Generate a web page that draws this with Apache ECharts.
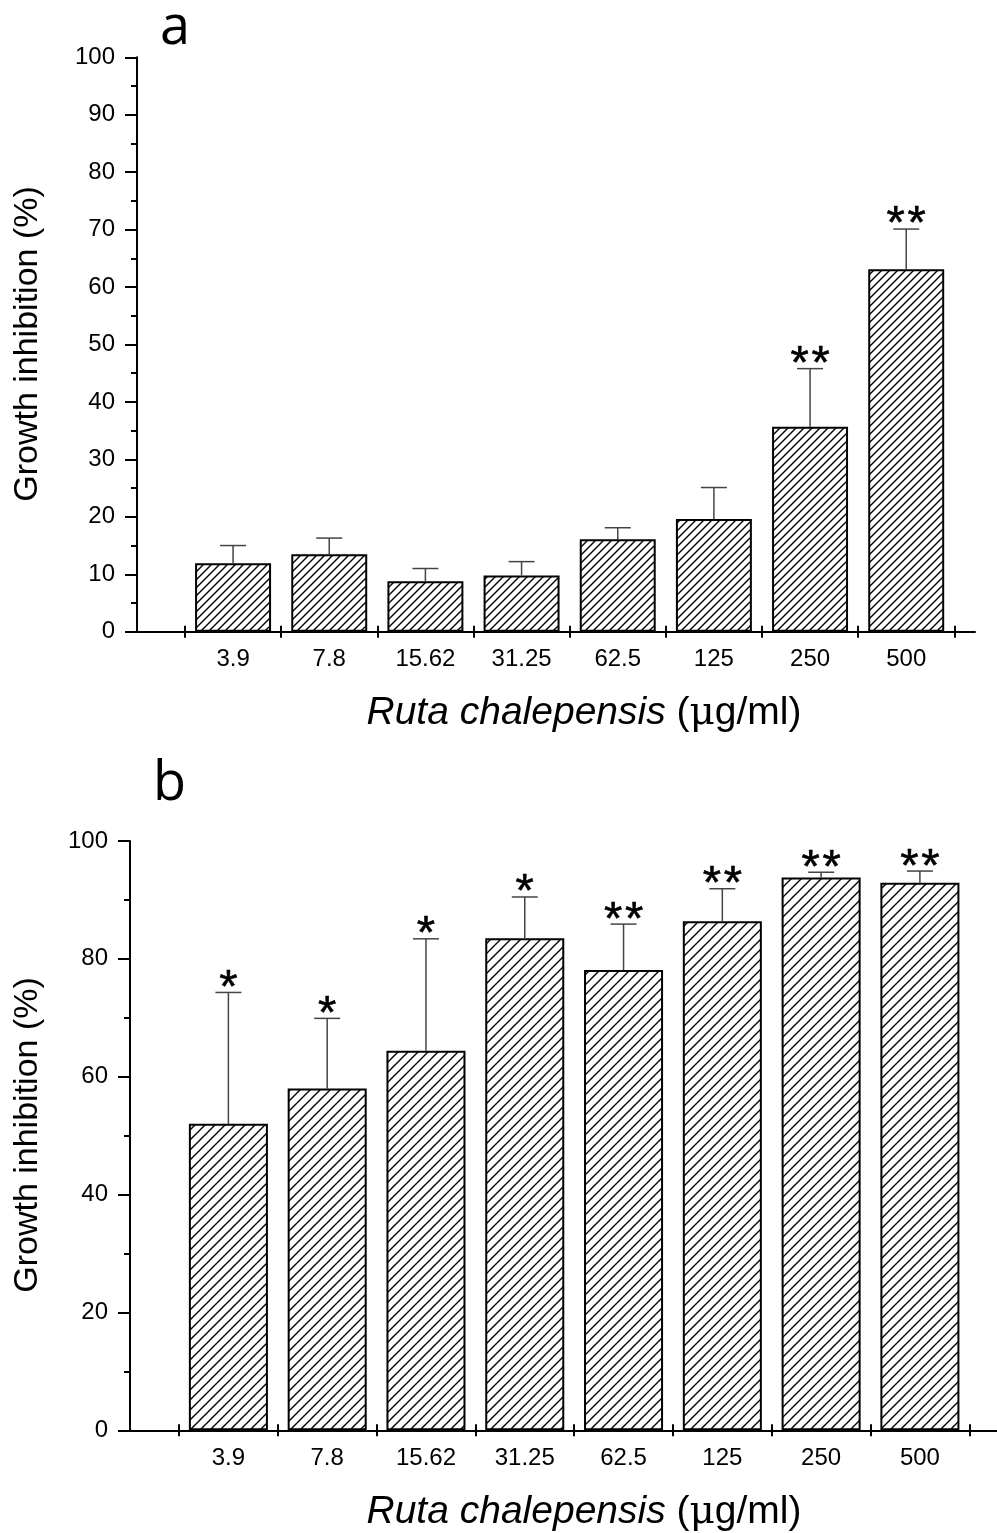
<!DOCTYPE html>
<html>
<head>
<meta charset="utf-8">
<script src="https://cdn.jsdelivr.net/npm/echarts@6.0.0/dist/echarts.min.js"></script>
<style>
  html, body { margin: 0; padding: 0; background: #fff; }
  #chart { width: 997px; height: 1533px; }
</style>
</head>
<body>
<div id="chart"></div>
<script>
// concentrations (µg/ml)
const categories = ['3.9', '7.8', '15.62', '31.25', '62.5', '125', '250', '500']

// panel a
const inhibitionA = [11.9, 13.5, 8.8, 9.8, 16.1, 19.6, 35.7, 63.1]
const errorA = [3.1, 2.8, 2.2, 2.4, 2.0, 5.5, 10.1, 7.0]
const starsA = ['', '', '', '', '', '', '**', '**']

// panel b
const inhibitionB = [52.0, 58.0, 64.4, 83.5, 78.1, 86.4, 93.8, 92.9]
const errorB = [22.3, 11.9, 19.0, 7.0, 7.8, 5.5, 0.9, 2.0]
const starsB = ['*', '*', '*', '*', '**', '**', '**', '**']

const FONT = '"Liberation Sans", Arial, sans-serif'

// diagonal hatch fill
function hatch(p) {
  const c = document.createElement('canvas')
  c.width = p
  c.height = p
  const ctx = c.getContext('2d')
  ctx.fillStyle = '#fff'
  ctx.fillRect(0, 0, p, p)
  ctx.strokeStyle = '#000'
  ctx.lineWidth = 1.4
  ctx.beginPath()
  ctx.moveTo(0, p); ctx.lineTo(p, 0)
  ctx.moveTo(-p / 2, p / 2); ctx.lineTo(p / 2, -p / 2)
  ctx.moveTo(p / 2, p * 1.5); ctx.lineTo(p * 1.5, p / 2)
  ctx.stroke()
  return c
}

function errorRender(stars) {
  return function (params, api) {
    const i = api.value(0)
    const v = api.value(1)
    const e = api.value(2)
    const base = api.coord([i, v])
    const top = api.coord([i, v + e])
    const half = 13
    const children = [
      { type: 'line', shape: { x1: base[0], y1: base[1], x2: top[0], y2: top[1] }, style: { stroke: '#444', lineWidth: 1.5 } },
      { type: 'line', shape: { x1: top[0] - half, y1: top[1], x2: top[0] + half, y2: top[1] }, style: { stroke: '#444', lineWidth: 1.5 } }
    ]
    // stars drawn one by one, spaced a little wider than the font does
    const s = stars[params.dataIndex]
    const step = 21
    for (let k = 0; k < s.length; k++) {
      children.push({
        type: 'text',
        style: {
          text: s[k], x: top[0] + (k - (s.length - 1) / 2) * step, y: top[1] + 20,
          textAlign: 'center', textVerticalAlign: 'bottom',
          font: '47px ' + FONT, fill: '#000', stroke: '#000', lineWidth: 0.6
        }
      })
    }
    return { type: 'group', children: children }
  }
}

function valueAxisY(gridIndex, interval, show) {
  return {
    type: 'value', gridIndex: gridIndex, min: 0, max: 100, interval: interval,
    show: show,
    axisLine: { show: true, lineStyle: { color: '#000', width: 2 } },
    axisTick: { show: true, length: 12, lineStyle: { color: '#000', width: 2 } },
    minorTick: { show: true, splitNumber: 2, length: 6, lineStyle: { color: '#000', width: 2 } },
    axisLabel: { color: '#000', fontSize: 24, fontFamily: FONT, margin: 22 },
    splitLine: { show: false }
  }
}

function lineAxisX(gridIndex) {
  return {
    type: 'value', gridIndex: gridIndex, min: 0, max: 1,
    axisLine: { show: true, lineStyle: { color: '#000', width: 2 } },
    axisTick: { show: false }, axisLabel: { show: false }, splitLine: { show: false }
  }
}

function catAxisX(gridIndex, inside, labels) {
  return {
    type: 'category', gridIndex: gridIndex, data: categories, position: 'bottom',
    axisLine: { show: false },
    axisTick: { show: true, inside: inside, length: 6, lineStyle: { color: '#000', width: 2 } },
    axisLabel: { show: labels, color: '#000', fontSize: 24, fontFamily: FONT, margin: 16 }
  }
}

const hatchA = hatch(8)
const hatchB = hatch(10)

function barSeries(xi, yi, data, pattern, gap) {
  return {
    type: 'bar', xAxisIndex: xi, yAxisIndex: yi, data: data,
    barCategoryGap: gap,
    itemStyle: { color: { image: pattern, repeat: 'repeat' }, borderColor: '#000', borderWidth: 2 },
    silent: true, animation: false
  }
}

function errorSeries(xi, yi, vals, errs, stars) {
  return {
    type: 'custom', xAxisIndex: xi, yAxisIndex: yi,
    data: vals.map((v, i) => [i, v, errs[i]]),
    renderItem: errorRender(stars),
    silent: true, animation: false, z: 5
  }
}

function axisTitle(x, y) {
  return {
    type: 'text', x: x, y: y,
    style: {
      text: '{i|Ruta chalepensis} ({n|μ}g/ml)',
      align: 'center', verticalAlign: 'bottom',
      font: '39px ' + FONT, fill: '#000',
      rich: {
        i: { fontStyle: 'italic', fontSize: 39, fontFamily: FONT },
        n: { fontSize: 39, fontFamily: '"DejaVu Serif", serif' }
      }
    }
  }
}

function yTitle(x, y) {
  return {
    type: 'text', x: x, y: y, rotation: Math.PI / 2,
    style: {
      text: 'Growth inhibition (%)', align: 'center', verticalAlign: 'middle',
      font: '34px ' + FONT, fill: '#000'
    }
  }
}

const chart = echarts.init(document.getElementById('chart'))
chart.setOption({
  backgroundColor: '#fff',
  animation: false,
  grid: [
    { left: 137, top: 57.3, width: 838, height: 574.4 },
    { left: 185, top: 57.3, width: 769.3, height: 574.4 },
    { left: 130, top: 841, width: 867, height: 589.3 },
    { left: 179, top: 841, width: 790.3, height: 589.3 }
  ],
  xAxis: [
    lineAxisX(0),
    catAxisX(1, true, true),
    catAxisX(1, false, false),
    lineAxisX(2),
    catAxisX(3, true, true),
    catAxisX(3, false, false)
  ],
  yAxis: [
    valueAxisY(0, 10, true),
    valueAxisY(1, 10, false),
    valueAxisY(2, 20, true),
    valueAxisY(3, 20, false)
  ],
  series: [
    barSeries(1, 1, inhibitionA, hatchA, '21%'),
    errorSeries(1, 1, inhibitionA, errorA, starsA),
    barSeries(4, 3, inhibitionB, hatchB, '20%'),
    errorSeries(4, 3, inhibitionB, errorB, starsB)
  ],
  graphic: [
    { type: 'text', x: 160, y: 56, style: { text: 'a', font: '54px "Open Sans", sans-serif', fill: '#000', verticalAlign: 'bottom' } },
    { type: 'text', x: 153, y: 812, style: { text: 'b', font: '54px "Open Sans", sans-serif', fill: '#000', verticalAlign: 'bottom' } },
    axisTitle(584, 733),
    axisTitle(584, 1532),
    yTitle(28, 344),
    yTitle(28, 1135)
  ]
})
</script>
</body>
</html>
